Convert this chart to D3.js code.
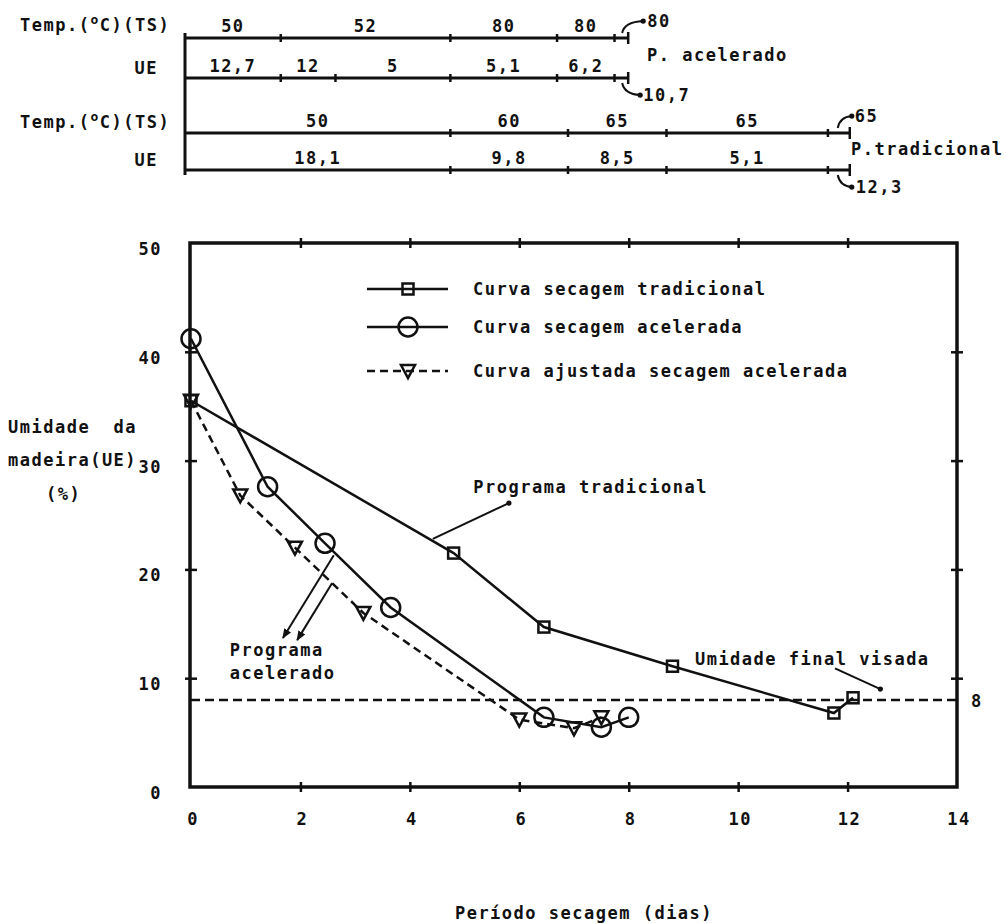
<!DOCTYPE html>
<html>
<head>
<meta charset="utf-8">
<script src="https://cdn.jsdelivr.net/npm/d3@7"></script>
<style>
  body { margin: 0; background: #fff; }
  text { font-family: 'DejaVu Sans Mono', monospace; font-weight: bold; font-size: 17px; letter-spacing: 1.5px; fill: #111; }
</style>
</head>
<body>
<div id="chart"></div>
<script>
// drying curves (days, moisture %)
var tradDays = [0, 4.8, 6.45, 8.8, 11.75, 12.1];
var tradUE   = [35.5, 21.5, 14.7, 11.1, 6.8, 8.2];
var acelDays = [0, 1.4, 2.45, 3.65, 6.45, 7.5, 8.0];
var acelUE   = [41.2, 27.6, 22.4, 16.5, 6.4, 5.5, 6.4];
var fitDays  = [0, 0.9, 1.9, 3.15, 6.0, 7.0, 7.5];
var fitUE    = [35.5, 26.8, 22.0, 16.0, 6.2, 5.4, 6.4];
var targetUE = 8;

var legendNames = ["Curva secagem tradicional", "Curva secagem acelerada", "Curva ajustada secagem acelerada"];
var xTicks = [0, 2, 4, 6, 8, 10, 12, 14];
var yTicks = [0, 10, 20, 30, 40, 50];

// kiln schedules shown on top (break days, values per stage; last value is the final stage)
var acelTempBreaks = [0, 1.75, 4.85, 6.8, 7.85, 8.1];
var acelTemp       = ["50", "52", "80", "80", "80"];
var acelUEBreaks   = [0, 1.75, 2.75, 4.85, 6.8, 7.85, 8.1];
var acelUEStage    = ["12,7", "12", "5", "5,1", "6,2", "10,7"];
var tradBreaks     = [0, 4.85, 7.0, 8.8, 11.75, 12.15];
var tradTemp       = ["50", "60", "65", "65", "65"];
var tradUEStage    = ["18,1", "9,8", "8,5", "5,1", "12,3"];

var width = 1006, height = 924;
var margin = { top: 243, right: 49, bottom: 137, left: 191 };

var svg = d3.select("#chart").append("svg")
  .attr("width", width)
  .attr("height", height);

var defs = svg.append("defs");
defs.append("marker")
  .attr("id", "dot")
  .attr("viewBox", "-4 -4 8 8")
  .attr("markerWidth", 6).attr("markerHeight", 6)
  .attr("markerUnits", "userSpaceOnUse")
  .append("circle").attr("r", 3.5).attr("fill", "#111");
defs.append("marker")
  .attr("id", "head")
  .attr("viewBox", "0 -5 10 10")
  .attr("refX", 9)
  .attr("markerWidth", 10).attr("markerHeight", 10)
  .attr("markerUnits", "userSpaceOnUse")
  .attr("orient", "auto")
  .append("path").attr("d", "M0,-4L10,0L0,4Z").attr("fill", "#111");

var x = d3.scaleLinear().domain([0, 14]).range([margin.left, width - margin.right]);
var y = d3.scaleLinear().domain([0, 50]).range([height - margin.bottom, margin.top]);

// frame
svg.append("rect")
  .attr("x", x(0) - 1).attr("y", y(50))
  .attr("width", x(14) - x(0) + 1).attr("height", y(0) - y(50))
  .attr("fill", "none").attr("stroke", "#111").attr("stroke-width", 3.5);

function crossTicks(g, horizontal) {
  g.select(".domain").remove();
  g.selectAll(".tick text").remove();
  if (horizontal) g.selectAll(".tick line").attr("y1", -5).attr("y2", 5);
  else g.selectAll(".tick line").attr("x1", -6).attr("x2", 6);
  g.selectAll(".tick line").attr("stroke", "#111").attr("stroke-width", 2.5);
}

var inner = xTicks.slice(1, -1);
var innerY = yTicks.slice(1, -1);
svg.append("g").attr("transform", "translate(0," + y(0) + ")")
  .call(d3.axisBottom(x).tickValues(inner)).call(crossTicks, true);
svg.append("g").attr("transform", "translate(0," + y(50) + ")")
  .call(d3.axisTop(x).tickValues(inner)).call(crossTicks, true);
svg.append("g").attr("transform", "translate(" + x(0) + ",0)")
  .call(d3.axisLeft(y).tickValues(innerY)).call(crossTicks, false);
svg.append("g").attr("transform", "translate(" + x(14) + ",0)")
  .call(d3.axisRight(y).tickValues(innerY)).call(crossTicks, false);

// tick labels
svg.append("g").selectAll("text").data(xTicks).join("text")
  .attr("x", d => x(d) + 2).attr("y", y(0) + 38)
  .attr("text-anchor", "middle")
  .text(d => d);
svg.append("g").selectAll("text").data(yTicks).join("text")
  .attr("x", x(0) - 29).attr("y", d => y(d) + 12)
  .attr("text-anchor", "end")
  .text(d => d);

// axis titles
var yTitle = svg.append("g");
yTitle.append("text").attr("x", 8).attr("y", 433).style("white-space", "pre").text("Umidade  da");
yTitle.append("text").attr("x", 8).attr("y", 466).text("madeira(UE)");
yTitle.append("text").attr("x", 46).attr("y", 500).text("(%)");
svg.append("text").attr("x", 584).attr("y", 919).attr("text-anchor", "middle").text("Período secagem (dias)");

// target moisture line
svg.append("line")
  .attr("x1", x(0)).attr("x2", x(14))
  .attr("y1", y(targetUE)).attr("y2", y(targetUE))
  .attr("stroke", "#111").attr("stroke-width", 2.5).attr("stroke-dasharray", "9,5");
svg.append("text").attr("x", x(14) + 14).attr("y", y(targetUE) + 7).text(targetUE);

// series
var line = d3.line().x(d => x(d[0])).y(d => y(d[1]));
var series = [
  { name: legendNames[0], pts: d3.zip(tradDays, tradUE), dash: null, mark: "square" },
  { name: legendNames[1], pts: d3.zip(acelDays, acelUE), dash: null, mark: "circle" },
  { name: legendNames[2], pts: d3.zip(fitDays, fitUE), dash: "8,5", mark: "tri" }
];

function drawMark(g, kind) {
  if (kind === "square") g.append("rect").attr("x", -5.5).attr("y", -5.5).attr("width", 11).attr("height", 11);
  else if (kind === "circle") g.append("circle").attr("r", 9.5);
  else g.append("path").attr("d", "M-7,-6L7,-6L0,7Z");
  g.attr("fill", "none").attr("stroke", "#111").attr("stroke-width", 2.5);
}

series.forEach(function(s) {
  svg.append("path").datum(s.pts)
    .attr("d", line)
    .attr("fill", "none").attr("stroke", "#111").attr("stroke-width", 2.5)
    .attr("stroke-dasharray", s.dash);
  svg.append("g").selectAll("g").data(s.pts).join("g")
    .attr("transform", d => "translate(" + x(d[0]) + "," + y(d[1]) + ")")
    .each(function() { drawMark(d3.select(this), s.mark); });
});

// legend
var legend = svg.append("g").selectAll("g").data(series).join("g")
  .attr("transform", (d, i) => "translate(367," + [289, 327, 371][i] + ")");
legend.append("line").attr("x1", 0).attr("x2", 81)
  .attr("stroke", "#111").attr("stroke-width", 2.5)
  .attr("stroke-dasharray", d => d.dash);
legend.append("g").attr("transform", "translate(41,0)")
  .each(function(d) { drawMark(d3.select(this), d.mark); });
legend.append("text").attr("x", 106).attr("y", 6).text(d => d.name);

// annotations (positions in data units)
function arrow(a, b, mk) {
  svg.append("line")
    .attr("x1", x(a[0])).attr("y1", y(a[1]))
    .attr("x2", x(b[0])).attr("y2", y(b[1]))
    .attr("stroke", "#111").attr("stroke-width", 2)
    .attr("marker-end", "url(#" + mk + ")");
}
svg.append("text").attr("x", x(5.16)).attr("y", y(27.6) + 6).text("Programa tradicional");
arrow([4.42, 22.8], [5.81, 26.1], "dot");
svg.append("text").attr("x", x(0.71)).attr("y", y(12.6) + 6).text("Programa");
svg.append("text").attr("x", x(0.71)).attr("y", y(10.5) + 6).text("acelerado");
arrow([2.61, 21.3], [1.68, 13.7], "head");
arrow([2.58, 18.75], [1.94, 13.5], "head");
svg.append("text").attr("x", x(9.21)).attr("y", y(11.8) + 6).text("Umidade final visada");
arrow([11.77, 10.9], [12.6, 9.0], "dot");

// kiln schedules on top
var sx = d3.scaleLinear().domain([0, 14]).range([185, 951]);
var sched = svg.append("g").attr("class", "schedule");
sched.append("line").attr("x1", sx(0)).attr("x2", sx(0)).attr("y1", 33).attr("y2", 175)
  .attr("stroke", "#111").attr("stroke-width", 3);

function scheduleRow(breaks, vals, yy, up, lx, tx) {
  var g = sched.append("g");
  var last = breaks[breaks.length - 1];
  g.append("line").attr("x1", sx(0)).attr("x2", sx(last)).attr("y1", yy).attr("y2", yy)
    .attr("stroke", "#111").attr("stroke-width", 3);
  g.selectAll("line.t").data(breaks.slice(1, -1)).join("line").attr("class", "t")
    .attr("x1", d => sx(d)).attr("x2", d => sx(d)).attr("y1", yy - 4).attr("y2", yy + 4)
    .attr("stroke", "#111").attr("stroke-width", 2.5);
  g.append("line").attr("x1", sx(last)).attr("x2", sx(last)).attr("y1", yy - 6).attr("y2", yy + 6)
    .attr("stroke", "#111").attr("stroke-width", 2.5);
  g.selectAll("text.v").data(vals.slice(0, -1)).join("text").attr("class", "v")
    .attr("x", (d, i) => (sx(breaks[i]) + sx(breaks[i + 1])) / 2)
    .attr("y", yy - 6).attr("text-anchor", "middle")
    .text(d => d);
  // final stage value with curved arrow
  var xe = sx(last), s = up ? -1 : 1;
  g.append("path")
    .attr("d", "M" + (xe + lx[0]) + "," + (yy + s * 5) + "Q" + (xe + lx[0] + 2) + "," + (yy + s * 16) + " " + (xe + lx[1]) + "," + (yy + s * 17))
    .attr("fill", "none").attr("stroke", "#111").attr("stroke-width", 2)
    .attr("marker-end", "url(#dot)");
  g.append("text").attr("x", xe + tx).attr("y", yy + s * 17 + 6).text(vals[vals.length - 1]);
}
scheduleRow(acelTempBreaks, acelTemp, 38, true, [-6, 15], 19);
scheduleRow(acelUEBreaks, acelUEStage, 78, false, [-6, 12], 15);
scheduleRow(tradBreaks, tradTemp, 133, true, [-12, 2], 5);
scheduleRow(tradBreaks, tradUEStage, 170, false, [-12, 2], 6);

// schedule row labels
function tempLabel(yy) {
  var t = sched.append("text").attr("x", 20).attr("y", yy);
  t.append("tspan").text("Temp.(");
  t.append("tspan").attr("dy", -7).style("font-size", "13px").text("o");
  t.append("tspan").attr("dy", 7).text("C)(TS)");
}
tempLabel(31);
tempLabel(128);
sched.append("text").attr("x", 158).attr("y", 74).attr("text-anchor", "end").text("UE");
sched.append("text").attr("x", 158).attr("y", 166).attr("text-anchor", "end").text("UE");
sched.append("text").attr("x", 647).attr("y", 61).text("P. acelerado");
sched.append("text").attr("x", 851).attr("y", 155).text("P.tradicional");
</script>
</body>
</html>
